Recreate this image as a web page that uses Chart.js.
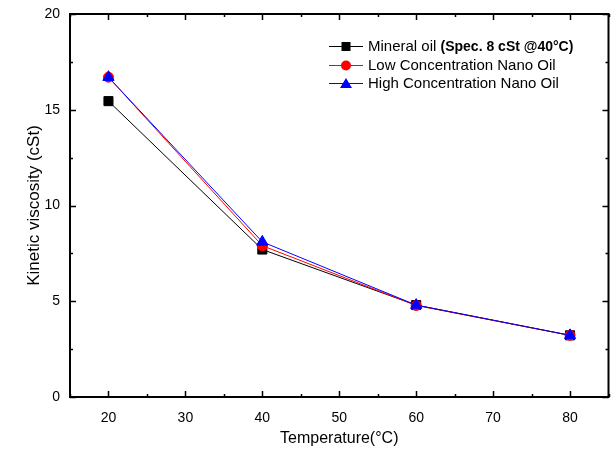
<!DOCTYPE html>
<html><head><meta charset="utf-8">
<script src="https://cdn.jsdelivr.net/npm/chart.js@4/dist/chart.umd.min.js"></script>
<style>html,body{margin:0;padding:0;background:#fff}#wrap{width:616px;height:457px}</style>
</head><body><div id="wrap"><canvas id="c" width="616" height="457"></canvas></div>
<script>
const temperatures = [20, 40, 60, 80];
const mineralOil = [15.45, 7.7, 4.8, 3.22];
const lowNano = [16.7, 7.9, 4.78, 3.22];
const highNano = [16.7, 8.1, 4.8, 3.22];
const xTicks = [20, 30, 40, 50, 60, 70, 80];
const yTicks = [0, 5, 10, 15, 20];
const seriesNames = ['Mineral oil', 'Low Concentration Nano Oil', 'High Concentration Nano Oil'];

const FONT = '"Liberation Sans", Arial, sans-serif';

const framePlugin = {
  id: 'frame',
  afterDatasetsDraw(chart) {
    const {ctx, chartArea: a, scales: {x, y}} = chart;
    ctx.save();
    ctx.strokeStyle = '#000';
    ctx.lineWidth = 2;
    ctx.strokeRect(a.left, a.top, a.right - a.left, a.bottom - a.top);
    ctx.lineWidth = 1.5;
    const major = 6, minor = 3;
    for (let v = 15; v <= 85; v += 5) {
      const px = Math.round(x.getPixelForValue(v)) + 0.5;
      const len = (v % 10 === 0) ? major : minor;
      ctx.beginPath();
      ctx.moveTo(px, a.bottom); ctx.lineTo(px, a.bottom - len);
      ctx.moveTo(px, a.top); ctx.lineTo(px, a.top + len);
      ctx.stroke();
    }
    for (let v = 0; v <= 20; v += 2.5) {
      const py = Math.round(y.getPixelForValue(v)) + 0.5;
      const len = (v % 5 === 0) ? major : minor;
      ctx.beginPath();
      ctx.moveTo(a.left, py); ctx.lineTo(a.left + len, py);
      ctx.moveTo(a.right, py); ctx.lineTo(a.right - len, py);
      ctx.stroke();
    }
    ctx.restore();
  }
};

const legendPlugin = {
  id: 'customLegend',
  afterDraw(chart) {
    const ctx = chart.ctx;
    ctx.save();
    const x0 = 329, lineLen = 34, textX = 368;
    const rows = [46, 65, 83];
    chart.data.datasets.forEach((ds, i) => {
      const yy = rows[i];
      ctx.strokeStyle = ds.borderColor;
      ctx.lineWidth = 1;
      ctx.beginPath(); ctx.moveTo(x0, yy + 0.5); ctx.lineTo(x0 + lineLen, yy + 0.5); ctx.stroke();
      ctx.fillStyle = ds.pointBackgroundColor;
      const cx = x0 + lineLen / 2;
      if (ds.pointStyle === 'rect') {
        ctx.fillRect(cx - 4.5, yy - 4, 9, 9);
      } else if (ds.pointStyle === 'circle') {
        ctx.beginPath(); ctx.arc(cx, yy + 0.5, 5, 0, Math.PI * 2); ctx.fill();
      } else {
        ctx.beginPath(); ctx.moveTo(cx, yy - 5); ctx.lineTo(cx + 6, yy + 5); ctx.lineTo(cx - 6, yy + 5); ctx.closePath(); ctx.fill();
      }
      ctx.fillStyle = '#000';
      ctx.textBaseline = 'middle';
      ctx.font = '15px ' + FONT;
      ctx.fillText(seriesNames[i], textX, yy + 1);
      if (i === 0) {
        const w = ctx.measureText(seriesNames[i] + ' ').width;
        ctx.font = 'bold 14px ' + FONT;
        ctx.fillText('(Spec. 8 cSt @40°C)', textX + w, yy + 1);
      }
    });
    ctx.restore();
  }
};

const toPts = arr => temperatures.map((t, i) => ({x: t, y: arr[i]}));

new Chart(document.getElementById('c'), {
  type: 'line',
  data: {
    datasets: [
      {label: seriesNames[0], data: toPts(mineralOil), borderColor: '#000', backgroundColor: '#000',
       pointBackgroundColor: '#000', pointBorderColor: '#000', pointStyle: 'rect', pointRadius: 6.4, borderWidth: 1, order: 3},
      {label: seriesNames[1], data: toPts(lowNano), borderColor: '#ff0000', backgroundColor: '#ff0000',
       pointBackgroundColor: '#ff0000', pointBorderColor: '#ff0000', pointStyle: 'circle', pointRadius: 5, borderWidth: 1, order: 2},
      {label: seriesNames[2], data: toPts(highNano), borderColor: '#0000ff', backgroundColor: '#0000ff',
       pointBackgroundColor: '#0000ff', pointBorderColor: '#0000ff', pointStyle: 'triangle', pointRadius: 6.5, borderWidth: 1, order: 1}
    ]
  },
  options: {
    responsive: false,
    animation: false,
    layout: {padding: {top: 14, right: 3, left: 20, bottom: 0}},
    plugins: {legend: {display: false}, tooltip: {enabled: false}},
    scales: {
      x: {
        type: 'linear', min: 15, max: 85,
        afterBuildTicks: s => { s.ticks = xTicks.map(v => ({value: v})); },
        afterFit: s => { s.height = 60; s.paddingLeft = 0; s.paddingRight = 0; },
        grid: {display: false, drawTicks: false},
        border: {display: false},
        ticks: {color: '#000', font: {family: FONT, size: 14}, padding: 13, maxRotation: 0},
        title: {display: true, text: 'Temperature(°C)', color: '#000', font: {family: FONT, size: 16}, padding: {top: 4, bottom: 9}}
      },
      y: {
        type: 'linear', min: 0, max: 20,
        afterBuildTicks: s => { s.ticks = yTicks.map(v => ({value: v})); },
        afterFit: s => { s.width = 50; s.paddingTop = 0; s.paddingBottom = 0; },
        grid: {display: false, drawTicks: false},
        border: {display: false},
        ticks: {color: '#000', font: {family: FONT, size: 14}, padding: 10},
        title: {display: true, text: 'Kinetic viscosity (cSt)', color: '#000', font: {family: FONT, size: 17}, padding: {bottom: 0}}
      }
    }
  },
  plugins: [framePlugin, legendPlugin]
});
</script></body></html>
